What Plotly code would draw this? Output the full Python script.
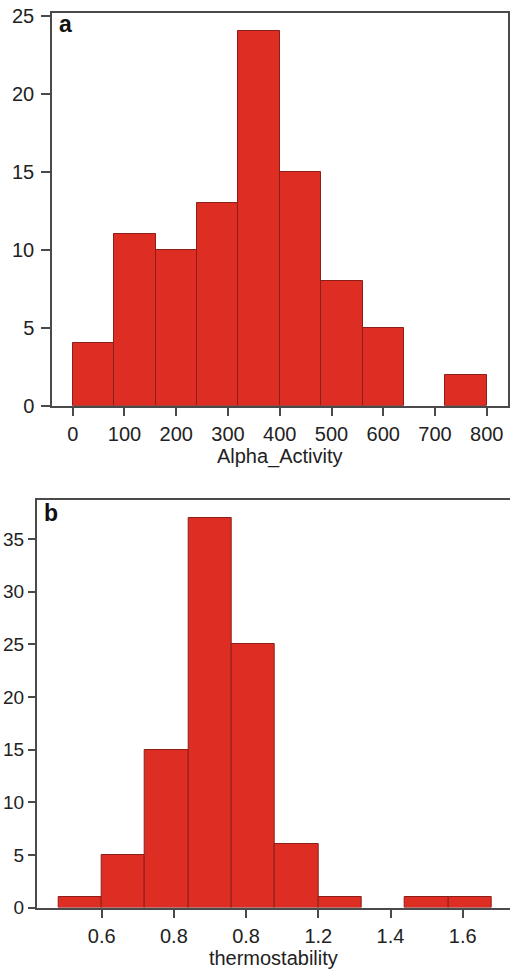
import plotly.graph_objects as go

# ---- data ----
alpha_bin_start = [0, 80, 160, 240, 320, 400, 480, 560, 640, 720]
alpha_counts = [4, 11, 10, 13, 24, 15, 8, 5, 0, 2]
alpha_bin_width = 80
alpha_ticks = [0, 100, 200, 300, 400, 500, 600, 700, 800]

thermo_bin_start = [0.48, 0.60, 0.72, 0.84, 0.96, 1.08, 1.20, 1.32, 1.44, 1.56]
thermo_counts = [1, 5, 15, 37, 25, 6, 1, 0, 1, 1]
thermo_bin_width = 0.12
thermo_tickvals = [0.6, 0.8, 1.0, 1.2, 1.4, 1.6]
thermo_ticktext = ["0.6", "0.8", "0.8", "1.2", "1.4", "1.6"]

BAR = "rgb(222,45,35)"
EDGE = "rgb(140,30,25)"
FRAME = "#4a4a4a"
FONT = "Liberation Sans, Arial, sans-serif"
TXT = "#222"

W, H = 510, 970

fig = go.Figure()
fig.add_trace(go.Bar(
    x=[s + alpha_bin_width / 2 for s in alpha_bin_start], y=alpha_counts,
    width=alpha_bin_width,
    marker=dict(color=BAR, line=dict(color=EDGE, width=[1 if c > 0 else 0 for c in alpha_counts])),
    xaxis="x", yaxis="y", showlegend=False))
fig.add_trace(go.Bar(
    x=[s + thermo_bin_width / 2 for s in thermo_bin_start], y=thermo_counts,
    width=thermo_bin_width,
    marker=dict(color=BAR, line=dict(color=EDGE, width=[1 if c > 0 else 0 for c in thermo_counts])),
    xaxis="x2", yaxis="y2", showlegend=False))

common = dict(showgrid=False, zeroline=False, showline=True, linecolor=FRAME, linewidth=1.5,
              ticks="outside", tickwidth=1.5, tickcolor=FRAME, automargin=False)
title_font = dict(family=FONT, size=20, color=TXT)
tick_font = dict(family=FONT, size=20, color=TXT)

fig.update_layout(
    width=W, height=H, margin=dict(l=0, r=0, t=0, b=0, autoexpand=False),
    paper_bgcolor="white", plot_bgcolor="white", bargap=0,
    font=dict(family=FONT, color=TXT),
    xaxis=dict(domain=[52 / W, 507.5 / W], range=[-40, 840], tickvals=alpha_ticks,
               mirror=True, anchor="y", ticklabelstandoff=1, ticklen=9, tickfont=tick_font,
               title=dict(text="Alpha_Activity", font=title_font, standoff=2),
               **common),
    yaxis=dict(domain=[(H - 405.7) / H, (H - 13) / H], range=[0, 25.17], tickvals=[0, 5, 10, 15, 20, 25],
               mirror=True, anchor="x", ticklabelstandoff=3, ticklen=9, tickfont=tick_font, **common),
    xaxis2=dict(domain=[36.7 / W, 1.0], range=[0.42, 1.731], tickvals=thermo_tickvals, ticktext=thermo_ticktext,
                mirror=True, anchor="y2", ticklabelstandoff=1, ticklen=9, tickfont=tick_font,
                title=dict(text="thermostability", font=title_font, standoff=2),
                **common),
    yaxis2=dict(domain=[(H - 907.5) / H, (H - 500) / H], range=[0, 38.7], tickvals=[0, 5, 10, 15, 20, 25, 30, 35],
                mirror=False, anchor="x2", ticklabelstandoff=0, ticklen=7,
                tickfont=dict(family=FONT, size=19, color=TXT), **common),
    annotations=[
        dict(text="<b>a</b>", x=0.01, y=1.01, xref="x domain", yref="y domain",
             xanchor="left", yanchor="top", showarrow=False, font=dict(family=FONT, size=23, color="#111")),
        dict(text="<b>b</b>", x=0.012, y=1.005, xref="x2 domain", yref="y2 domain",
             xanchor="left", yanchor="top", showarrow=False, font=dict(family=FONT, size=23, color="#111")),
    ],
)

fig.write_html("out.html")
